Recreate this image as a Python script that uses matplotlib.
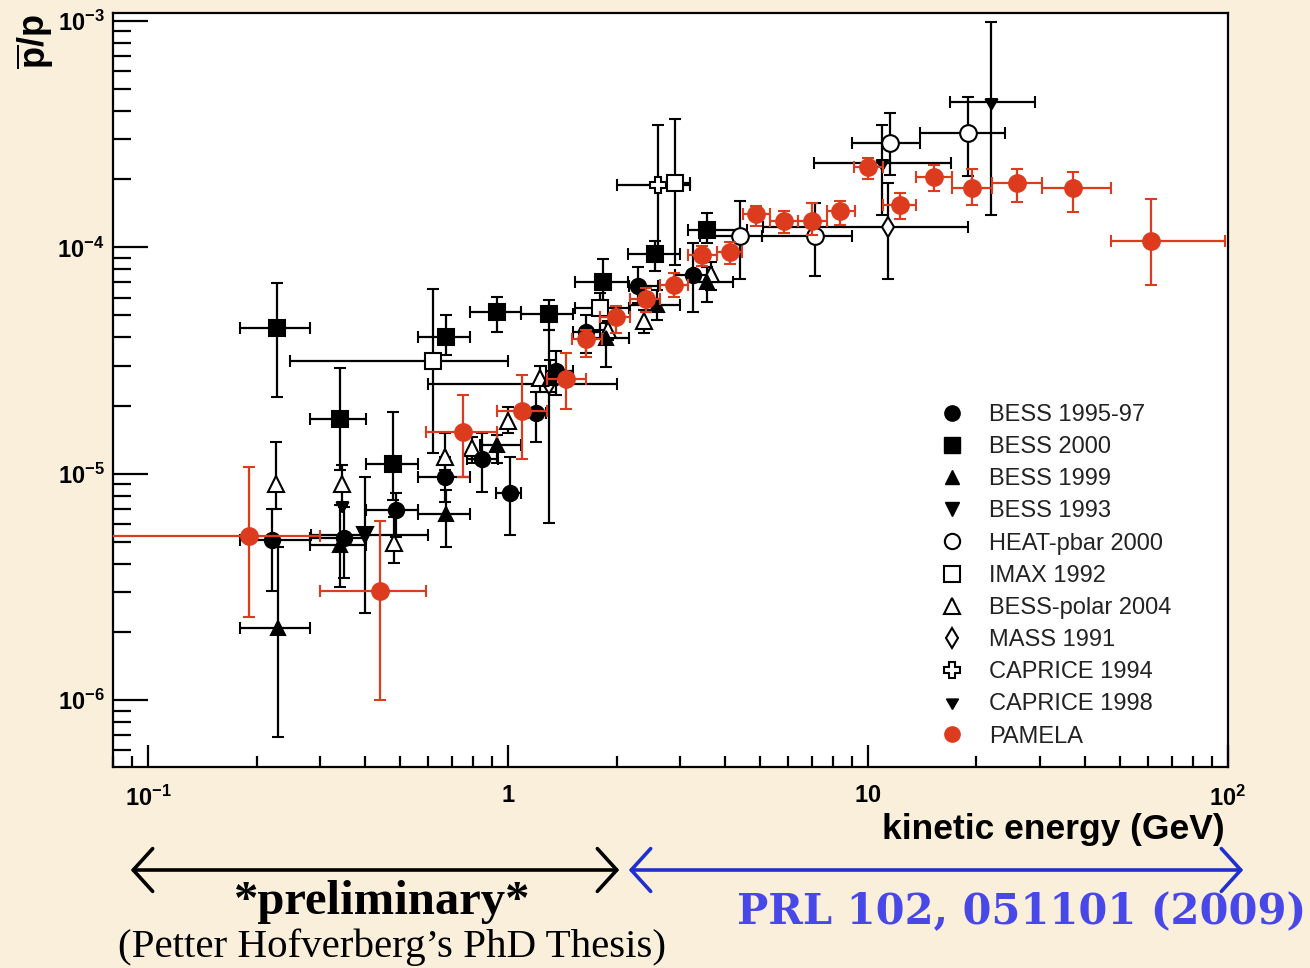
import matplotlib
matplotlib.use("Agg")
import matplotlib.pyplot as plt
from matplotlib.lines import Line2D
from matplotlib.patches import FancyArrowPatch
from matplotlib.ticker import FixedLocator, FuncFormatter, NullFormatter
import numpy as np

plt.rcParams['font.family'] = ['Liberation Sans', 'DejaVu Sans']
plt.rcParams['mathtext.fontset'] = 'custom'
plt.rcParams['mathtext.rm'] = 'Liberation Sans'
plt.rcParams['mathtext.bf'] = 'Liberation Sans:bold'
plt.rcParams['mathtext.it'] = 'Liberation Sans:italic'

# ---- data (energy in GeV, ratio pbar/p) ----
# PAMELA
pam_e = [0.19, 0.44, 0.75, 1.09, 1.45, 1.65, 1.99, 2.41, 2.89, 3.45, 4.13, 4.88, 5.83, 6.98, 8.34, 9.98, 12.3, 15.2, 19.4, 25.9, 37.0, 61.0]
pam_elo = [0.05, 0.30, 0.59, 0.93, 1.28, 1.50, 1.80, 2.18, 2.64, 3.16, 3.80, 4.49, 5.33, 6.38, 7.68, 9.15, 11.0, 13.6, 17.1, 22.1, 30.4, 47.2]
pam_ehi = [0.30, 0.59, 0.93, 1.28, 1.64, 1.82, 2.18, 2.64, 3.16, 3.80, 4.46, 5.33, 6.38, 7.68, 9.19, 11.0, 13.6, 17.1, 22.1, 30.4, 47.2, 98.0]
pam_r = [5.32e-6, 3.04e-6, 1.53e-5, 1.90e-5, 2.62e-5, 3.94e-5, 4.93e-5, 5.91e-5, 6.82e-5, 9.25e-5, 9.53e-5, 1.40e-4, 1.31e-4, 1.31e-4, 1.45e-4, 2.26e-4, 1.54e-4, 2.04e-4, 1.83e-4, 1.92e-4, 1.83e-4, 1.07e-4]
pam_rlo = [2.34e-6, 1.0e-6, 9.7e-6, 1.16e-5, 1.93e-5, 3.28e-5, 4.18e-5, 5.18e-5, 6.03e-5, 8.27e-5, 8.44e-5, 1.24e-4, 1.16e-4, 1.13e-4, 1.25e-4, 2.0e-4, 1.33e-4, 1.77e-4, 1.54e-4, 1.59e-4, 1.43e-4, 6.8e-5]
pam_rhi = [1.07e-5, 6.2e-6, 2.23e-5, 2.73e-5, 3.42e-5, 4.32e-5, 5.51e-5, 6.61e-5, 7.70e-5, 1.01e-4, 1.06e-4, 1.52e-4, 1.45e-4, 1.57e-4, 1.60e-4, 2.48e-4, 1.74e-4, 2.31e-4, 2.22e-4, 2.22e-4, 2.15e-4, 1.63e-4]

# BESS 1995-97
b97_e = [0.221, 0.350, 0.488, 0.667, 0.845, 1.011, 1.194, 1.357, 1.644, 2.293, 3.26]
b97_elo = [0.180, 0.281, 0.403, 0.561, 0.768, 0.924, 1.134, 1.273, 1.513, 2.164, 2.905]
b97_ehi = [0.281, 0.403, 0.561, 0.783, 0.936, 1.085, 1.273, 1.513, 1.798, 2.605, 3.656]
b97_r = [5.11e-6, 5.21e-6, 6.93e-6, 9.69e-6, 1.163e-5, 8.24e-6, 1.856e-5, 2.844e-5, 4.227e-5, 6.75e-5, 7.55e-5]
b97_rlo = [3.04e-6, 3.47e-6, 5.26e-6, 7.52e-6, 8.32e-6, 5.37e-6, 1.383e-5, 2.23e-5, 3.416e-5, 5.68e-5, 5.18e-5]
b97_rhi = [7.0e-6, 7.14e-6, 8.24e-6, 1.188e-5, 1.516e-5, 1.188e-5, 2.298e-5, 3.485e-5, 5.03e-5, 8.18e-5, 1.045e-4]

# BESS 2000
b00_e = [0.228, 0.341, 0.478, 0.670, 0.930, 1.298, 1.832, 2.556, 3.564]
b00_elo = [0.180, 0.281, 0.403, 0.561, 0.783, 1.085, 1.532, 2.150, 3.156]
b00_ehi = [0.281, 0.403, 0.561, 0.783, 1.085, 1.513, 2.150, 2.999, 4.603]
b00_r = [4.40e-5, 1.747e-5, 1.106e-5, 4.02e-5, 5.18e-5, 5.08e-5, 7.03e-5, 9.34e-5, 1.192e-4]
b00_rlo = [2.184e-5, 1.04e-5, 7.67e-6, 3.35e-5, 4.23e-5, 4.32e-5, 5.45e-5, 7.86e-5, 1.045e-4]
b00_rhi = [6.96e-5, 2.933e-5, 1.875e-5, 5.03e-5, 6.02e-5, 5.86e-5, 8.88e-5, 1.066e-4, 1.417e-4]

# BESS 1999
b99_e = [0.229, 0.341, 0.670, 0.930, 1.31, 1.868, 2.588, 3.564]
b99_elo = [0.180, 0.281, 0.561, 0.834, 1.225, 1.612, 2.178, 3.156]
b99_ehi = [0.281, 0.403, 0.783, 1.085, 1.513, 2.164, 2.999, 4.21]
b99_r = [2.089e-6, 4.86e-6, 6.65e-6, 1.341e-5, 2.65e-5, 3.98e-5, 5.565e-5, 7.03e-5]
b99_rlo = [6.9e-7, 3.17e-6, 4.76e-6, 1.117e-5, 2.30e-5, 2.96e-5, 4.80e-5, 5.74e-5]
b99_rhi = [4.76e-6, 7.29e-6, 8.49e-6, 1.485e-5, 3.18e-5, 4.63e-5, 6.50e-5, 8.18e-5]

# BESS 1993
b93_e = [0.400]
b93_elo = [0.283]
b93_ehi = [0.598]
b93_r = [5.37e-6]
b93_rlo = [2.43e-6]
b93_rhi = [9.69e-6]

# HEAT-pbar 2000
heat_e = [4.40, 7.11, 11.48, 18.92]
heat_elo = [3.41, 5.07, 9.01, 13.92]
heat_ehi = [5.07, 9.01, 13.92, 23.97]
heat_r = [1.117e-4, 1.122e-4, 2.886e-4, 3.195e-4]
heat_rlo = [7.25e-5, 7.47e-5, 2.084e-4, 2.063e-4]
heat_rhi = [1.601e-4, 1.569e-4, 3.915e-4, 4.61e-4]

# IMAX 1992
imax_e = [0.618, 1.798, 2.905]
imax_elo = [0.247, 1.532, 2.76]
imax_ehi = [0.998, 2.164, 3.197]
imax_r = [3.15e-5, 5.40e-5, 1.922e-4]
imax_rlo = [1.237e-5, 4.315e-5, 8.35e-5]
imax_rhi = [6.55e-5, 6.29e-5, 3.68e-4]

# BESS-polar 2004
bp_e = [0.226, 0.345, 0.482, 0.667, 0.795, 0.998, 1.225, 1.89, 2.382, 3.656]
bp_r = [9.03e-6, 9.03e-6, 4.96e-6, 1.188e-5, 1.30e-5, 1.712e-5, 2.649e-5, 4.315e-5, 4.73e-5, 7.62e-5]
bp_rlo = [7.0e-6, 7.29e-6, 4.045e-6, 1.04e-5, 1.12e-5, 1.516e-5, 2.298e-5, 3.90e-5, 4.18e-5, 6.50e-5]
bp_rhi = [1.383e-5, 1.09e-5, 6.45e-6, 1.516e-5, 1.46e-5, 1.973e-5, 3.0e-5, 4.75e-5, 5.29e-5, 8.60e-5]

# MASS 1991
mass_e = [1.298, 11.34]
mass_elo = [0.598, 5.10]
mass_ehi = [2.004, 18.92]
mass_r = [2.492e-5, 1.229e-4]
mass_rlo = [6.07e-6, 7.25e-5]
mass_rhi = [4.315e-5, 1.922e-4]

# CAPRICE 1994
c94_e = [2.605]
c94_elo = [2.004]
c94_ehi = [3.197]
c94_r = [1.883e-4]
c94_rlo = [9.06e-5]
c94_rhi = [3.464e-4]

# CAPRICE 1998
c98_e = [0.345, 10.93, 21.92]
c98_elo = [0.345, 7.07, 16.87]
c98_ehi = [0.345, 16.97, 29.05]
c98_r = [7.29e-6, 2.355e-4, 4.39e-4]
c98_rlo = [7.29e-6, 1.389e-4, 1.389e-4]
c98_rhi = [7.29e-6, 3.464e-4, 9.87e-4]

RED = '#dd3b1e'
BG = '#faefda'
STAR = (3, 1, 180)


def draw(ax, e, elo, ehi, r, rlo, rhi, marker, ms, face, col='black', z=3):
    e = np.asarray(e); r = np.asarray(r)
    xerr = [e - np.asarray(elo), np.asarray(ehi) - e]
    yerr = [r - np.asarray(rlo), np.asarray(rhi) - r]
    ax.errorbar(e, r, xerr=xerr, yerr=yerr, fmt='', marker=marker, linestyle='none', ms=ms,
                mfc=face, mec=col, mew=1.5, ecolor=col, elinewidth=1.6, capsize=4,
                capthick=1.6, zorder=z)


fig = plt.figure(figsize=(13.1, 9.68), dpi=100, facecolor=BG)
ax = fig.add_axes([0.0863, 0.2073, 0.8511, 0.7789])
ax.set_facecolor('white')
ax.set_xscale('log')
ax.set_yscale('log')

draw(ax, imax_e, imax_elo, imax_ehi, imax_r, imax_rlo, imax_rhi, 's', 11, 'white')
draw(ax, mass_e, mass_elo, mass_ehi, mass_r, mass_rlo, mass_rhi, 'd', 10, 'white')
draw(ax, c94_e, c94_elo, c94_ehi, c94_r, c94_rlo, c94_rhi, 'P', 11, 'white')
draw(ax, heat_e, heat_elo, heat_ehi, heat_r, heat_rlo, heat_rhi, 'o', 12, 'white')
draw(ax, bp_e, bp_e, bp_e, bp_r, bp_rlo, bp_rhi, '^', 11, 'white')
draw(ax, b93_e, b93_elo, b93_ehi, b93_r, b93_rlo, b93_rhi, 'v', 11, 'black')
draw(ax, b99_e, b99_elo, b99_ehi, b99_r, b99_rlo, b99_rhi, '^', 10, 'black')
draw(ax, b00_e, b00_elo, b00_ehi, b00_r, b00_rlo, b00_rhi, 's', 11, 'black')
draw(ax, b97_e, b97_elo, b97_ehi, b97_r, b97_rlo, b97_rhi, 'o', 11, 'black')
draw(ax, c98_e, c98_elo, c98_ehi, c98_r, c98_rlo, c98_rhi, STAR, 10, 'black')
draw(ax, pam_e, pam_elo, pam_ehi, pam_r, pam_rlo, pam_rhi, 'o', 12, RED, RED, z=4)

ax.set_xlim(0.0798, 100)
ax.set_ylim(5.05e-7, 1.08e-3)

for s in ax.spines.values():
    s.set_linewidth(1.6)

ax.xaxis.set_major_locator(FixedLocator([0.1, 1, 10, 100]))
ax.xaxis.set_minor_locator(FixedLocator([m * 10.0 ** d for d in range(-2, 2) for m in range(2, 10)]))
ax.yaxis.set_major_locator(FixedLocator([1e-6, 1e-5, 1e-4, 1e-3]))
ax.yaxis.set_minor_locator(FixedLocator([m * 10.0 ** d for d in range(-7, -3) for m in range(2, 10)]))


def xfmt(v, pos):
    labels = {0.1: r'$\mathbf{10^{-1}}$', 1: r'$\mathbf{1}$', 10: r'$\mathbf{10}$', 100: r'$\mathbf{10^{2}}$'}
    for k, t in labels.items():
        if abs(v - k) < 1e-9 * max(k, 1):
            return t
    return ''


def yfmt(v, pos):
    return r'$\mathbf{10^{%d}}$' % int(round(np.log10(v)))


ax.xaxis.set_major_formatter(FuncFormatter(xfmt))
ax.xaxis.set_minor_formatter(NullFormatter())
ax.yaxis.set_major_formatter(FuncFormatter(yfmt))
ax.yaxis.set_minor_formatter(NullFormatter())
ax.tick_params(axis='x', which='major', direction='in', length=16, width=1.6, pad=13, labelsize=17)
ax.tick_params(axis='x', which='minor', direction='in', length=8, width=1.6)
ax.tick_params(axis='y', which='major', direction='in', length=25, width=1.6, pad=6, labelsize=17)
ax.tick_params(axis='y', which='minor', direction='in', length=13, width=1.6)
ax.tick_params(top=False, right=False, which='both')

fig.text(0.027, 0.957, r'$\mathbf{\overline{p}/p}$', rotation=90, ha='center', va='center', fontsize=26)
fig.text(1225 / 1310, 1 - 830 / 968, 'kinetic energy (GeV)', ha='right', va='center',
         fontsize=25.5, fontweight='bold')

# legend
handles = [
    Line2D([], [], ls='none', marker='o', ms=11, mfc='black', mec='black'),
    Line2D([], [], ls='none', marker='s', ms=11, mfc='black', mec='black'),
    Line2D([], [], ls='none', marker='^', ms=10, mfc='black', mec='black'),
    Line2D([], [], ls='none', marker='v', ms=10, mfc='black', mec='black'),
    Line2D([], [], ls='none', marker='o', ms=11, mfc='white', mec='black', mew=1.5),
    Line2D([], [], ls='none', marker='s', ms=11, mfc='white', mec='black', mew=1.5),
    Line2D([], [], ls='none', marker='^', ms=11, mfc='white', mec='black', mew=1.5),
    Line2D([], [], ls='none', marker='d', ms=10, mfc='white', mec='black', mew=1.5),
    Line2D([], [], ls='none', marker='P', ms=11, mfc='white', mec='black', mew=1.5),
    Line2D([], [], ls='none', marker=STAR, ms=10, mfc='black', mec='black'),
    Line2D([], [], ls='none', marker='o', ms=11, mfc=RED, mec=RED),
]
labels = ['BESS 1995-97', 'BESS 2000', 'BESS 1999', 'BESS 1993', 'HEAT-pbar 2000', 'IMAX 1992',
          'BESS-polar 2004', 'MASS 1991', 'CAPRICE 1994', 'CAPRICE 1998', 'PAMELA']
leg = ax.legend(handles, labels, loc='upper left', bbox_to_anchor=(935 / 1310, 1 - 404 / 968),
                bbox_transform=fig.transFigure, frameon=False, fontsize=17, labelspacing=0.43,
                handlelength=1.4, handletextpad=0.9, borderpad=0, borderaxespad=0)
for t in leg.get_texts():
    t.set_color('#222222')

# arrows and notes under the axis
fig.add_artist(FancyArrowPatch((128 / 1310, 1 - 870 / 968), (622 / 1310, 1 - 870 / 968),
                               transform=fig.transFigure, arrowstyle='<->,head_length=0.5,head_width=0.55',
                               mutation_scale=28, lw=2.6, color='black'))
fig.add_artist(FancyArrowPatch((626 / 1310, 1 - 870 / 968), (1246 / 1310, 1 - 870 / 968),
                               transform=fig.transFigure, arrowstyle='<->,head_length=0.5,head_width=0.55',
                               mutation_scale=28, lw=2.6, color='#1f2fd0'))
fig.text(382 / 1310, 1 - 902 / 968, '*preliminary*', ha='center', va='center', fontsize=35,
         fontweight='bold', family='Liberation Serif')
fig.text(392 / 1310, 1 - 947 / 968, '(Petter Hofverberg\u2019s PhD Thesis)', ha='center', va='center',
         fontsize=29.5, family='Liberation Serif')
fig.text(1022 / 1310, 1 - 912 / 968, 'PRL 102, 051101 (2009)', ha='center', va='center', fontsize=30,
         fontweight='bold', family='DejaVu Serif', color='#4848e8')

fig.savefig('out.png', dpi=100, facecolor=BG)
